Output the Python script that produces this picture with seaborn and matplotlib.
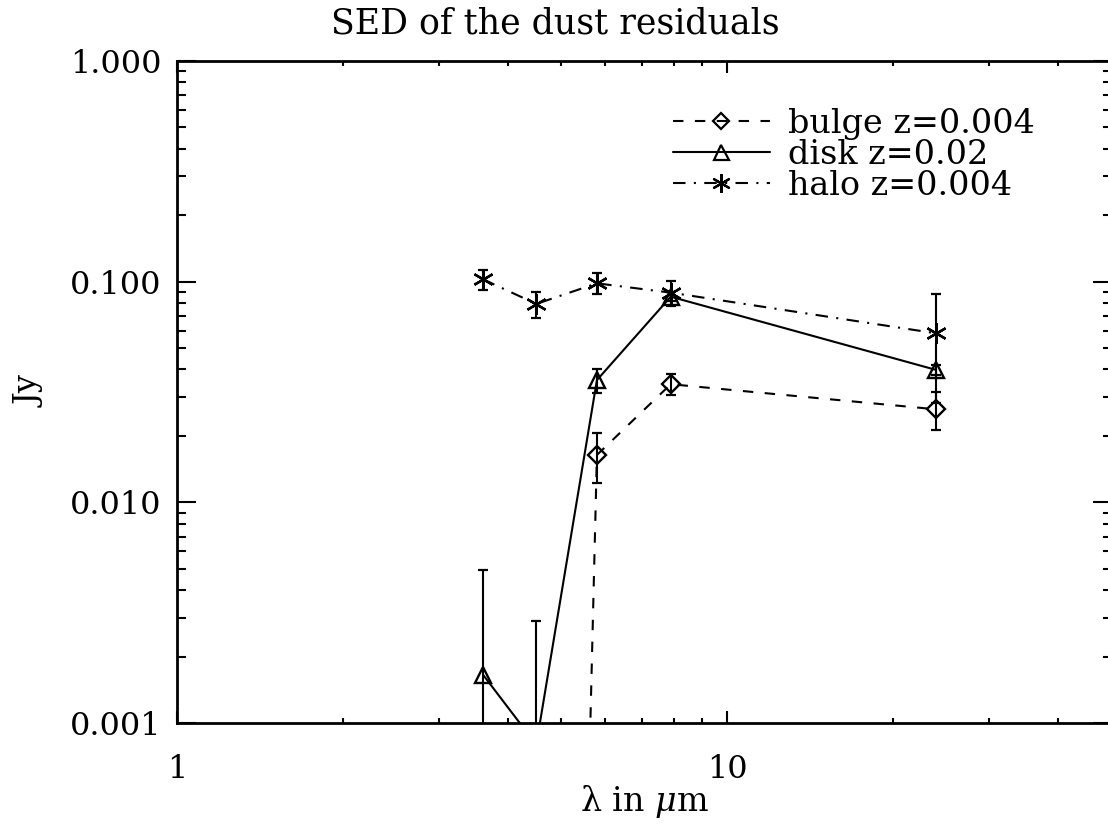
import numpy as np
import pandas as pd
import matplotlib
matplotlib.use("Agg")
import matplotlib.pyplot as plt
import matplotlib.ticker as mticker
from matplotlib.lines import Line2D
import seaborn as sns

# ---- data ----
wavelength = [3.6, 4.5, 5.8, 7.9, 24.0]
bulge = [1e-12, 1e-13, 0.0164, 0.0343, 0.0264]
bulge_err = [0.0, 0.0, 0.0042, 0.0038, 0.0052]
disk = [0.00166, 0.0008, 0.0358, 0.0854, 0.0398]
disk_err = [0.0033, 0.0021, 0.0045, 0.0040, 0.0020]
halo = [0.1024, 0.0792, 0.0982, 0.0891, 0.0583]
halo_err = [0.0110, 0.0105, 0.0107, 0.0115, 0.0300]
labels = ["bulge z=0.004", "disk z=0.02", "halo z=0.004"]
xtick_vals = [1, 10]
xtick_labels = ["1", "10"]
ytick_vals = [0.001, 0.01, 0.1, 1.0]
ytick_labels = ["0.001", "0.010", "0.100", "1.000"]

sns.set_theme(style="ticks")
plt.rcParams["font.family"] = ["DejaVu Serif"]
plt.rcParams["mathtext.fontset"] = "dejavuserif"
for k in ["text.color", "axes.labelcolor", "xtick.color", "ytick.color",
          "axes.edgecolor"]:
    plt.rcParams[k] = "black"

W, H = 1108, 826
fig = plt.figure(figsize=(W / 100, H / 100), dpi=100)
left, right, top, bottom = 177, 1111.5, 60.7, 723.3
ax = fig.add_axes([left / W, 1 - bottom / H, (right - left) / W, (bottom - top) / H])

lw = 1.5
series = [
    (bulge, bulge_err, "D", (5, 5.5), 9.5),
    (disk, disk_err, "^", "", 12),
    (halo, halo_err, (6, 2, 0), (6, 4, 1, 4), 15),
]

handles = []
for (vals, errs, mk, dash, ms), lab in zip(series, labels):
    df = pd.DataFrame({"x": wavelength, "y": vals})
    sns.lineplot(data=df, x="x", y="y", ax=ax, color="black", lw=lw,
                 marker=mk, markersize=ms, markerfacecolor="none",
                 markeredgecolor="black", markeredgewidth=1.7,
                 errorbar=None, sort=False, legend=False,
                 dashes=False)
    line = ax.lines[-1]
    if dash:
        line.set_dashes(dash)
    else:
        line.set_linestyle("-")
    v = np.asarray(vals)
    e = np.asarray(errs)
    m = e > 0
    lower = np.minimum(e[m], v[m] * 0.9999)
    ax.errorbar(np.asarray(wavelength)[m], v[m], yerr=[lower, e[m]],
                fmt="none", ecolor="black", elinewidth=1.5, capsize=3.3,
                capthick=1.6)
    h = Line2D([], [], color="black", lw=lw, marker=mk, markersize=ms * 0.9,
               markerfacecolor="none", markeredgecolor="black",
               markeredgewidth=1.6)
    if dash:
        h.set_dashes(dash)
    handles.append(h)

ax.set_xscale("log")
ax.set_yscale("log")
ax.set_xlim(1, 50)
ax.set_ylim(0.001, 1.0)

ax.xaxis.set_major_locator(mticker.FixedLocator(xtick_vals))
ax.xaxis.set_major_formatter(mticker.FixedFormatter(xtick_labels))
ax.xaxis.set_minor_locator(mticker.LogLocator(base=10, subs=np.arange(2, 10)))
ax.xaxis.set_minor_formatter(mticker.NullFormatter())
ax.yaxis.set_major_locator(mticker.FixedLocator(ytick_vals))
ax.yaxis.set_major_formatter(mticker.FixedFormatter(ytick_labels))
ax.yaxis.set_minor_locator(mticker.LogLocator(base=10, subs=np.arange(2, 10)))
ax.yaxis.set_minor_formatter(mticker.NullFormatter())

ax.tick_params(axis="both", which="both", direction="in", top=True, right=True,
               color="black", labelcolor="black", width=1.5)
ax.tick_params(axis="x", which="major", length=8.6, pad=22, labelsize=23)
ax.tick_params(axis="x", which="minor", length=3.8)
ax.tick_params(axis="y", which="major", length=13.5, pad=11, labelsize=23)
ax.tick_params(axis="y", which="minor", length=6.5)
for s in ax.spines.values():
    s.set_linewidth(2.0)
    s.set_color("black")
ax.set_facecolor("white")
ax.grid(False)

ax.set_xlabel("λ in $\\mu$m", fontsize=24, labelpad=-1, color="black")
ax.set_ylabel("Jy", fontsize=23, labelpad=18, color="black")

fig.text(555 / W, 1 - 23 / H, "SED of the dust residuals", ha="center",
         va="center", fontsize=25, color="black")

leg = ax.legend(handles, labels, loc="upper left",
                bbox_to_anchor=(673 / W, 1 - 108 / H),
                bbox_transform=fig.transFigure, frameon=False, fontsize=24,
                handlelength=2.9, handletextpad=0.55, borderpad=0,
                borderaxespad=0, labelspacing=-0.03)
for t in leg.get_texts():
    t.set_color("black")

fig.savefig("out.png", dpi=100, facecolor="white")
